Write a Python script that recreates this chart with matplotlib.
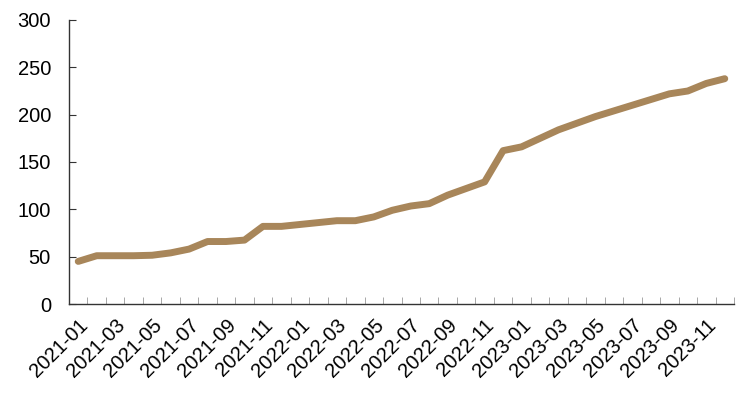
import matplotlib
matplotlib.use("Agg")
import matplotlib.pyplot as plt
import numpy as np

months = [f"{y}-{m:02d}" for y in (2021, 2022, 2023) for m in range(1, 13)]
values = [45, 51, 51, 51, 51.5, 54, 58, 66, 66, 67.5,
          82, 82, 84, 86, 88, 88, 92, 99, 103.5, 106,
          115, 122, 129, 162, 166, 175, 184, 191, 198, 204,
          210, 216, 222, 225, 233, 238]
yticks = [0, 50, 100, 150, 200, 250, 300]

plt.rcParams['font.family'] = ['Liberation Sans', 'DejaVu Sans']
fig = plt.figure(figsize=(7.41, 3.99), dpi=100)
ax = fig.add_axes([69/741, 95/399, (734-69)/741, 284/399])

x = np.arange(len(months))
ax.plot(x, values, color='#A8865A', lw=5, solid_capstyle='round', solid_joinstyle='round')

ax.set_xlim(-0.5, len(months) - 0.5)
ax.set_ylim(0, 300)
ax.set_yticks(yticks)
ax.set_xticks(x[::2])
ax.set_xticklabels(months[::2], rotation=45, ha='right', rotation_mode='anchor')
ax.set_xticks(np.arange(-0.5, len(months) + 0.5, 1), minor=True)
ax.tick_params(axis='x', which='major', length=0, pad=8, labelsize=14.5)
ax.tick_params(axis='x', which='minor', direction='in', length=5, color='#999999')
ax.tick_params(axis='y', direction='in', length=5, labelsize=14.5, pad=13, color='#333333')
for s in ('top', 'right'):
    ax.spines[s].set_visible(False)
for s in ('left', 'bottom'):
    ax.spines[s].set_color('#333333')
    ax.spines[s].set_linewidth(1)

fig.savefig('out.png', dpi=100)
